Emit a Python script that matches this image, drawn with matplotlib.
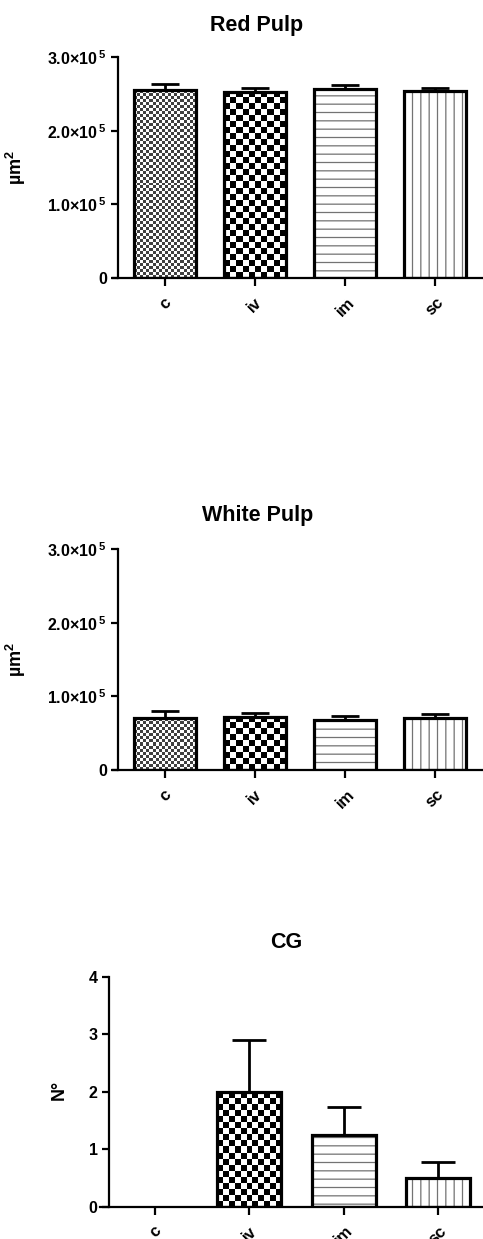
import numpy as np
import matplotlib
matplotlib.use("Agg")
import matplotlib.pyplot as plt

plt.rcParams['font.family'] = ['Liberation Sans', 'DejaVu Sans']
plt.rcParams['font.weight'] = 'bold'
plt.rcParams['mathtext.fontset'] = 'custom'
plt.rcParams['mathtext.rm'] = 'Liberation Sans:bold'
plt.rcParams['mathtext.bf'] = 'Liberation Sans:bold'
plt.rcParams['hatch.linewidth'] = 0.9

groups = ["c", "iv", "im", "sc"]

red_mean = [2.55e5, 2.53e5, 2.57e5, 2.54e5]
red_sem = [0.09e5, 0.045e5, 0.05e5, 0.045e5]

white_mean = [0.70e5, 0.72e5, 0.68e5, 0.71e5]
white_sem = [0.10e5, 0.06e5, 0.05e5, 0.045e5]

cg_mean = [0, 2.0, 1.25, 0.5]
cg_sem = [0, 0.9, 0.48, 0.28]

area_ticks = [0, 1e5, 2e5, 3e5]
area_labels = ["0", "1.0×10$^{\\,5}$", "2.0×10$^{\\,5}$", "3.0×10$^{\\,5}$"]
cg_ticks = [0, 1, 2, 3, 4]
cg_labels = ["0", "1", "2", "3", "4"]

# fill pattern per group: checker cell size in px, or a hatch string
patterns = [("checker", 3, 0.25), ("checker", 6, 0.0), ("hatch", "--", None), ("hatch", "||", None)]

W, H = 483, 1239
fig = plt.figure(figsize=(W / 100, H / 100), dpi=100)


def fill_checker(ax, bar, cell, dark):
    bb = bar.get_window_extent()
    nx = max(1, int(round(bb.width / cell)))
    ny = max(1, int(round(bb.height / cell)))
    yy, xx = np.mgrid[0:ny, 0:nx]
    board = np.where((xx + yy) % 2 == 0, dark, 1.0)
    x0, y0 = bar.get_x(), bar.get_y()
    img = ax.imshow(board, extent=(x0, x0 + bar.get_width(), y0, y0 + bar.get_height()),
                    cmap="gray", vmin=0, vmax=1, interpolation="nearest",
                    aspect="auto", zorder=2, origin="lower")
    img.set_clip_path(bar)


def panel(rect, means, sems, xlim, spine_x, ylim, yticks, ylabels, ylabel, lab_xy, capsize):
    ax = fig.add_axes(rect)
    ax.set_xlim(xlim)
    ax.set_ylim(ylim)
    x = np.arange(len(groups))
    base = ax.bar(x, means, width=0.68, color="white", edgecolor="none", zorder=1)
    for b, (kind, p, d), m in zip(base, patterns, means):
        if m <= 0:
            continue
        if kind == "checker":
            fill_checker(ax, b, p, d)
        else:
            b.set_hatch(p)
            b.set_edgecolor("0.45")
            b.set_linewidth(0)
    outline = ax.bar(x, means, width=0.68, fill=False, edgecolor="black", linewidth=2.3, zorder=4)
    for b, m in zip(outline, means):
        if m <= 0:
            b.set_linewidth(0)
    for xi, m, s in zip(x, means, sems):
        if s <= 0:
            continue
        eb = ax.errorbar([xi], [m], yerr=[[0], [s]], fmt="none", ecolor="black",
                         elinewidth=2.0, capsize=capsize, capthick=2.0, zorder=3)
        caps = eb[1]
        for c in caps:
            if np.allclose(c.get_ydata(), m):
                c.set_visible(False)
    ax.set_xlim(xlim)
    ax.set_ylim(ylim)
    ax.spines["top"].set_visible(False)
    ax.spines["right"].set_visible(False)
    ax.spines["left"].set_position(("data", spine_x))
    ax.spines["left"].set_linewidth(1.6)
    ax.spines["bottom"].set_linewidth(1.6)
    ax.set_yticks(yticks)
    ax.set_yticklabels(ylabels, fontsize=11.5, fontweight="bold")
    ax.set_xticks(x)
    ax.set_xticklabels(groups, rotation=45, ha="center", va="top", fontsize=12, fontweight="bold")
    ax.tick_params(axis="both", width=1.6, length=5, pad=3)
    ax.tick_params(axis="x", length=6, pad=6)
    ax.set_ylabel(ylabel, fontsize=13, fontweight="bold")
    ax.yaxis.set_label_coords(*lab_xy)
    return ax


# Red Pulp
panel([113 / W, 1 - 278 / H, 370 / W, 221 / H], red_mean, red_sem,
      (-0.578, 3.533), -0.522, (0, 3e5), area_ticks, area_labels,
      "µm$^{2}$", (-0.23, 0.5), 10)
fig.text(257 / W, 1 - 25 / H, "Red Pulp", ha="center", va="center", fontsize=15.5, fontweight="bold")

# White Pulp
panel([113 / W, 1 - 770 / H, 370 / W, 221 / H], white_mean, white_sem,
      (-0.578, 3.533), -0.522, (0, 3e5), area_ticks, area_labels,
      "µm$^{2}$", (-0.23, 0.5), 10)
fig.text(258 / W, 1 - 515 / H, "White Pulp", ha="center", va="center", fontsize=15.5, fontweight="bold")

# CG
panel([100 / W, 1 - 1206.7 / H, 383 / W, 230 / H], cg_mean, cg_sem,
      (-0.583, 3.478), -0.49, (0, 4), cg_ticks, cg_labels,
      "N°", (-0.084, 0.507), 12)
fig.text(286 / W, 1 - 942 / H, "CG", ha="center", va="center", fontsize=15.5, fontweight="bold")

fig.savefig("out.png", dpi=100)
